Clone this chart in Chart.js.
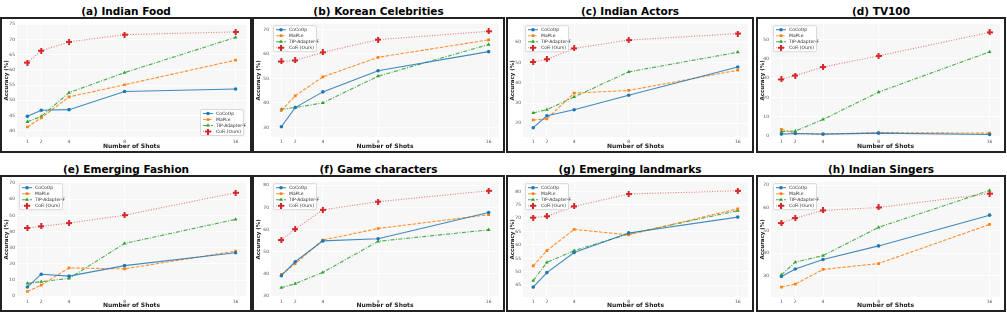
<!DOCTYPE html>
<html><head><meta charset="utf-8">
<script src="https://cdn.jsdelivr.net/npm/chart.js@4/dist/chart.umd.min.js"></script>
<style>
html,body{margin:0;padding:0;background:#fff;width:1007px;height:313px;overflow:hidden;position:relative}
.frame{position:absolute;border:2px solid #222;box-sizing:border-box;background:#fff}
.title{position:absolute;text-align:center;font:bold 10.5px "DejaVu Sans";color:#000;white-space:nowrap;line-height:12px}
canvas{display:block}
</style></head><body>
<script>
// ---- data ----
const shots = [1, 2, 4, 8, 16];
const shotLabels = ['1', '2', '4', '8', '16'];
const seriesNames = ['CoCoOp', 'MaPLe', 'TIP-Adapter-F', 'CoFi (Ours)'];
const panelTitles = ['(a) Indian Food', '(b) Korean Celebrities', '(c) Indian Actors', '(d) TV100',
                     '(e) Emerging Fashion', '(f) Game characters', '(g) Emerging landmarks', '(h) Indian Singers'];

// (a) Indian Food
const foodCoCoOp = [44.7, 46.7, 46.9, 52.9, 53.7];
const foodMaPLe  = [41.2, 44.2, 51.1, 55.1, 63.2];
const foodTIP    = [42.9, 44.7, 52.5, 59.1, 70.7];
const foodCoFi   = [62.4, 66.3, 69.2, 71.6, 72.5];
const foodTicks  = [40, 45, 50, 55, 60, 65, 70, 75];
// (b) Korean Celebrities
const koreanCoCoOp = [30.3, 38.1, 44.5, 53.1, 60.9];
const koreanMaPLe  = [36.9, 42.9, 50.6, 58.6, 65.7];
const koreanTIP    = [37.4, 38.1, 40.0, 50.9, 63.8];
const koreanCoFi   = [56.9, 57.3, 60.6, 65.8, 69.2];
const koreanTicks  = [30, 40, 50, 60, 70];
// (c) Indian Actors
const actorsCoCoOp = [17.8, 23.7, 26.7, 33.8, 47.8];
const actorsMaPLe  = [21.6, 22.1, 34.9, 36.2, 46.2];
const actorsTIP    = [25.1, 26.7, 33.0, 45.4, 55.1];
const actorsCoFi   = [50.3, 51.6, 57.0, 61.1, 64.3];
const actorsTicks  = [20, 30, 40, 50, 60];
// (d) TV100
const tvCoCoOp = [1.0, 1.3, 1.0, 1.5, 0.8];
const tvMaPLe  = [3.5, 1.3, 1.0, 1.8, 1.5];
const tvTIP    = [2.3, 2.6, 8.6, 22.8, 43.7];
const tvCoFi   = [29.4, 31.4, 35.8, 41.6, 53.8];
const tvTicks  = [0, 10, 20, 30, 40, 50];
// (e) Emerging Fashion
const fashionCoCoOp = [5.7, 13.6, 12.4, 18.9, 26.9];
const fashionMaPLe  = [2.9, 6.9, 17.5, 16.9, 27.9];
const fashionTIP    = [7.9, 9.0, 11.0, 32.6, 47.5];
const fashionCoFi   = [42.2, 43.2, 45.2, 50.1, 64.0];
const fashionTicks  = [0, 10, 20, 30, 40, 50, 60, 70];
// (f) Game characters
const gameCoCoOp = [39.2, 45.5, 54.9, 55.9, 67.7];
const gameMaPLe  = [39.8, 44.6, 55.3, 60.5, 66.7];
const gameTIP    = [33.8, 35.6, 40.7, 54.7, 59.9];
const gameCoFi   = [55.3, 60.2, 68.9, 72.6, 77.5];
const gameTicks  = [30, 40, 50, 60, 70, 80];
// (g) Emerging landmarks
const landCoCoOp = [44.3, 49.7, 57.2, 64.5, 70.4];
const landMaPLe  = [52.2, 57.9, 65.8, 63.8, 73.5];
const landTIP    = [46.7, 53.5, 57.9, 64.1, 72.8];
const landCoFi   = [70.2, 70.7, 74.4, 79.0, 80.2];
const landTicks  = [45, 50, 55, 60, 65, 70, 75, 80];
// (h) Indian Singers
const singersCoCoOp = [29.7, 33.0, 37.2, 43.2, 56.8];
const singersMaPLe  = [25.0, 26.3, 32.8, 35.4, 52.7];
const singersTIP    = [30.4, 36.0, 38.9, 51.4, 67.7];
const singersCoFi   = [53.3, 55.5, 58.9, 60.2, 66.3];
const singersTicks  = [30, 40, 50, 60, 70];

// ---- layout / style ----
const colors = ['#1f77b4', '#ff7f0e', '#2ca02c', '#d62728'];
const lineColors = ['rgba(31,119,180,0.85)', 'rgba(255,127,14,0.85)', 'rgba(44,160,44,0.85)', 'rgba(214,39,40,0.6)'];
const dashes = [[], [3.5, 1.5], [4, 1.5, 1, 1.5], [1, 1.6]];

function plusMarker(color, s) {
  const c = document.createElement('canvas');
  c.width = s; c.height = s;
  const g = c.getContext('2d');
  g.fillStyle = color;
  const t = Math.round(s * 0.4);
  const o = (s - t) / 2;
  g.fillRect(o, 0, t, s);
  g.fillRect(0, o, s, t);
  return c;
}
const plusImg = plusMarker('#d62728', 6);
const pointStyles = ['circle', 'rect', 'triangle', plusImg];
const pointRadii = [1.8, 1.9, 2.2, 3];

const panels = [
  {vals: [foodCoCoOp, foodMaPLe, foodTIP, foodCoFi], ticks: foodTicks, min: 37.9, max: 75.2, fx: [0, 252], fy: [17, 153], pl: [17, 249], pt: [19, 137], leg: 'br'},
  {vals: [koreanCoCoOp, koreanMaPLe, koreanTIP, koreanCoFi], ticks: koreanTicks, min: 26.1, max: 72.3, fx: [252, 505], fy: [17, 153], pl: [271, 502], pt: [19, 137], leg: 'tl'},
  {vals: [actorsCoCoOp, actorsMaPLe, actorsTIP, actorsCoFi], ticks: actorsTicks, min: 13.2, max: 69.2, fx: [506, 754], fy: [17, 153], pl: [523, 751], pt: [19, 137], leg: 'tl'},
  {vals: [tvCoCoOp, tvMaPLe, tvTIP, tvCoFi], ticks: tvTicks, min: -0.5, max: 58.3, fx: [756, 1006], fy: [17, 153], pl: [771, 1004], pt: [19, 137], leg: 'tl'},
  {vals: [fashionCoCoOp, fashionMaPLe, fashionTIP, fashionCoFi], ticks: fashionTicks, min: -0.5, max: 70.8, fx: [0, 252], fy: [175, 312], pl: [17, 249], pt: [177, 297], leg: 'tl'},
  {vals: [gameCoCoOp, gameMaPLe, gameTIP, gameCoFi], ticks: gameTicks, min: 29.6, max: 81.6, fx: [252, 505], fy: [175, 312], pl: [271, 502], pt: [177, 297], leg: 'tl'},
  {vals: [landCoCoOp, landMaPLe, landTIP, landCoFi], ticks: landTicks, min: 40.6, max: 83.6, fx: [506, 754], fy: [175, 312], pl: [523, 751], pt: [177, 297], leg: 'tl'},
  {vals: [singersCoCoOp, singersMaPLe, singersTIP, singersCoFi], ticks: singersTicks, min: 20.6, max: 71.6, fx: [756, 1006], fy: [175, 312], pl: [771, 1004], pt: [177, 297], leg: 'tl'}
];

const bgPlugin = {
  id: 'plotBg',
  beforeDraw(chart) {
    const a = chart.chartArea, g = chart.ctx;
    g.save(); g.fillStyle = '#f7f7f7';
    g.fillRect(a.left, a.top, a.right - a.left, a.bottom - a.top);
    g.restore();
  }
};

const legendPlugin = {
  id: 'mplLegend',
  afterDatasetsDraw(chart, args, opts) {
    const a = chart.chartArea, g = chart.ctx;
    const w = 43, h = 26;
    let x, y;
    if (opts.where === 'br') { x = a.right - 3 - w; y = a.bottom - 2 - h; }
    else { x = a.left + 2; y = a.top + 1.5; }
    g.save();
    g.fillStyle = 'rgba(255,255,255,0.85)';
    g.strokeStyle = '#d0d0d0';
    g.lineWidth = 0.8;
    g.beginPath();
    g.roundRect(x + 0.5, y + 0.5, w, h, 1.5);
    g.fill(); g.stroke();
    chart.data.datasets.forEach((ds, i) => {
      const ry = y + 4.5 + i * 6;
      g.strokeStyle = ds.borderColor;
      g.lineWidth = ds.borderWidth;
      g.setLineDash(ds.borderDash);
      g.beginPath(); g.moveTo(x + 3, ry); g.lineTo(x + 13, ry); g.stroke();
      g.setLineDash([]);
      g.fillStyle = ds.pointBackgroundColor;
      g.strokeStyle = ds.pointBackgroundColor;
      Chart.helpers.drawPoint(g, {pointStyle: ds.pointStyle, radius: ds.pointRadius, borderWidth: 0, rotation: 0}, x + 8, ry);
      g.fillStyle = '#333';
      g.font = '4.5px "DejaVu Sans"';
      g.textBaseline = 'middle';
      g.fillText(ds.label, x + 16, ry + 0.3);
    });
    g.restore();
  }
};

panels.forEach((p, k) => {
  const fw = p.fx[1] - p.fx[0], fh = p.fy[1] - p.fy[0];
  const t = document.createElement('div');
  t.className = 'title';
  t.textContent = panelTitles[k];
  t.style.left = p.fx[0] + 'px'; t.style.width = fw + 'px';
  t.style.top = (p.fy[0] - 12) + 'px';
  document.body.appendChild(t);

  const fr = document.createElement('div');
  fr.className = 'frame';
  fr.style.left = p.fx[0] + 'px'; fr.style.top = p.fy[0] + 'px';
  fr.style.width = fw + 'px'; fr.style.height = fh + 'px';
  document.body.appendChild(fr);
  const iw = fw - 4, ih = fh - 4, ix = p.fx[0] + 2, iy = p.fy[0] + 2;
  const cv = document.createElement('canvas');
  cv.width = iw; cv.height = ih;
  cv.style.width = iw + 'px'; cv.style.height = ih + 'px';
  fr.appendChild(cv);
  const L = p.pl[0] - ix, R = p.pl[1] - ix, T = p.pt[0] - iy, B = p.pt[1] - iy;

  const datasets = p.vals.map((v, i) => ({
    label: seriesNames[i],
    data: shots.map((s, j) => ({x: s, y: v[j]})),
    borderColor: lineColors[i],
    backgroundColor: colors[i],
    pointBackgroundColor: colors[i],
    pointBorderColor: colors[i],
    pointBorderWidth: 0,
    borderWidth: 1.1,
    borderDash: dashes[i],
    pointStyle: pointStyles[i],
    pointRadius: pointRadii[i],
    tension: 0,
    fill: false
  }));

  new Chart(cv, {
    type: 'line',
    data: {datasets},
    plugins: [bgPlugin, legendPlugin],
    options: {
      responsive: false, animation: false, devicePixelRatio: 1,
      layout: {padding: {left: 0, right: Math.max(0, iw - R), top: T, bottom: 0}},
      plugins: {legend: {display: false}, tooltip: {enabled: false}, mplLegend: {where: p.leg}},
      scales: {
        x: {
          type: 'linear', min: 0.25, max: 16.75,
          afterBuildTicks: s => { s.ticks = shots.map(v => ({value: v})); },
          afterFit: s => { s.height = ih - B; },
          ticks: {autoSkip: false, maxRotation: 0, padding: 2, color: '#555',
                  font: {family: 'DejaVu Sans', size: 4.5},
                  callback: (v, i) => shotLabels[i]},
          grid: {color: '#ffffff', drawTicks: false, lineWidth: 0.8},
          border: {display: false},
          title: {display: true, text: 'Number of Shots', color: '#222',
                  font: {family: 'DejaVu Sans', size: 6, weight: 'bold'}, padding: {top: 0, bottom: 1}}
        },
        y: {
          type: 'linear', min: p.min, max: p.max,
          afterBuildTicks: s => { s.ticks = p.ticks.map(v => ({value: v})); },
          afterFit: s => { s.width = L; },
          ticks: {autoSkip: false, padding: 2, color: '#555',
                  font: {family: 'DejaVu Sans', size: 4.5},
                  callback: v => String(v)},
          grid: {color: '#ffffff', drawTicks: false, lineWidth: 0.8},
          border: {display: false},
          title: {display: true, text: 'Accuracy (%)', color: '#222',
                  font: {family: 'DejaVu Sans', size: 5.5, weight: 'bold'}, padding: {top: 1, bottom: 0}}
        }
      }
    }
  });
});
</script>
</body></html>
